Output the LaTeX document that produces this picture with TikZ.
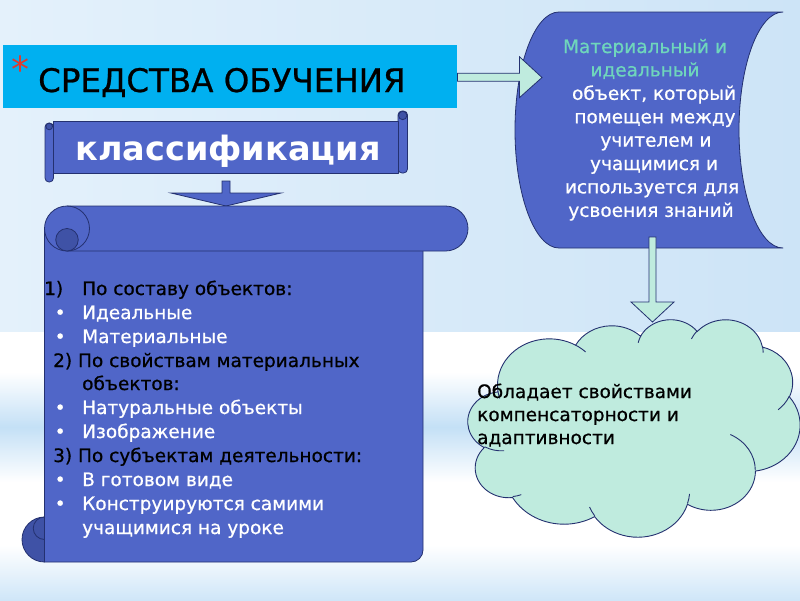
\documentclass[tikz,border=0pt]{standalone}
\usepackage{fontspec}
\setmainfont{DejaVu Sans}
\newfontfamily\heavy{DejaVu Sans}[FakeBold=0.7]
\usetikzlibrary{calc}
\definecolor{scrollblue}{HTML}{5066C8}
\definecolor{curlblue}{HTML}{3F52A6}
\definecolor{edgeblue}{HTML}{243170}
\definecolor{mint}{HTML}{BFEBDE}
\definecolor{minttext}{HTML}{6FD6BC}
\definecolor{titlecyan}{HTML}{00B0F0}
\definecolor{astred}{HTML}{E03A2E}
\definecolor{bgleft}{HTML}{E4F1FB}
\definecolor{bgright}{HTML}{CDE4F7}
\definecolor{bgstreak}{HTML}{C4E0F6}
\definecolor{bgbottom}{HTML}{CFE6F8}
\begin{document}
\begin{tikzpicture}[x=1pt,y=-1pt,
  blueshape/.style={fill=scrollblue,draw=edgeblue,line width=0.8pt,line join=round},
  curlshape/.style={fill=curlblue,draw=edgeblue,line width=0.8pt},
  edgeline/.style={draw=edgeblue,line width=0.8pt},
  mintarrow/.style={fill=mint,draw=edgeblue,line width=0.8pt,line join=miter},
  bluearrow/.style={fill=scrollblue,draw=edgeblue,line width=0.8pt,line join=miter},
  cloudshape/.style={fill=mint,draw=edgeblue,line width=0.9pt},
  cloudline/.style={draw=edgeblue,line width=0.9pt},
  txt/.style={inner sep=0pt,font=\heavy\fontsize{18.5}{22}\selectfont},
  lst/.style={txt,anchor=base west},
  ctr/.style={txt,anchor=base},
]
\useasboundingbox (0,0) rectangle (800,600);

% background
\fill[left color=bgleft,right color=bgright] (0,0) rectangle (800,332);
\fill[white] (0,332) rectangle (800,600);
\fill[top color=white,bottom color=white,middle color=bgstreak] (0,372) rectangle (800,482);
\fill[top color=white,bottom color=bgbottom] (0,545) rectangle (800,600);

% title
\node[fill=titlecyan,anchor=north west,minimum width=454pt,minimum height=63pt,inner sep=0pt] (title) at (3,45) {};
\node[anchor=base west,inner sep=0pt,font=\heavy\fontsize{32.5}{36}\selectfont] (titletext) at (38,92) {СРЕДСТВА ОБУЧЕНИЯ};
\node[anchor=base west,inner sep=0pt,text=astred,font=\fontsize{36}{36}\selectfont] (ast) at (11.5,82) {*};

% classification scroll
\draw[blueshape,rounded corners=4pt] (45,123) rectangle (53.5,182);
\draw[blueshape,rounded corners=4pt] (398,111) rectangle (407.5,173);
\draw[blueshape] (53.5,121) rectangle (398,173);
\draw[curlshape] (49.2,126.5) circle[radius=3.3];
\draw[curlshape] (402.7,115.5) circle[radius=4.2];
\coordinate (klass) at (226,147);
\node[anchor=base,inner sep=0pt,text=white,font=\bfseries\fontsize{33.5}{36}\selectfont] (klasstext) at (228,160) {классификация};

% blue arrow
\coordinate (ka) at (226,181);
\coordinate (kb) at (226,206);
\draw[bluearrow] ($(ka)+(-4,0)$) -- ($(ka)+(4,0)$) -- ($(kb)+(4,-13)$) -- ($(kb)+(55,-13)$) -- (kb) -- ($(kb)+(-55,-13)$) -- ($(kb)+(-4,-13)$) -- cycle;

% big scroll
\draw[blueshape] (44.5,229) -- (423,229) -- (423,550) arc[start angle=0,end angle=90,radius=12] -- (44.5,562) -- cycle;
\draw[curlshape] (44.5,517) arc[start angle=270,end angle=90,radius=22.5] -- cycle;
\draw[edgeline] (44.5,517) arc[start angle=270,end angle=90,radius=11.25];
\draw[blueshape] (67,206) -- (445.5,206) arc[start angle=270,end angle=450,radius=22.5] -- (67,251) arc[start angle=90,end angle=270,radius=22.5] -- cycle;
\draw[edgeline] (67,206) arc[start angle=270,end angle=450,radius=22.5];
\draw[curlshape] (67,239.75) circle[radius=11.25];

% list text
\node[lst] (n1) at (44,295) {1)};
\node[lst] (l1) at (82,295) {По составу объектов:};
\node[lst,text=white] (b1) at (54.5,319) {•};
\node[lst,text=white] (l2) at (82,319) {Идеальные};
\node[lst,text=white] (b2) at (54.5,343) {•};
\node[lst,text=white] (l3) at (82,343) {Материальные};
\node[lst] (l4) at (53,367) {2) По свойствам материальных};
\node[lst] (l5) at (82,390) {объектов:};
\node[lst,text=white] (b3) at (54.5,414) {•};
\node[lst,text=white] (l6) at (82,414) {Натуральные объекты};
\node[lst,text=white] (b4) at (54.5,438) {•};
\node[lst,text=white] (l7) at (82,438) {Изображение};
\node[lst] (l8) at (53,462) {3) По субъектам деятельности:};
\node[lst,text=white] (b5) at (54.5,486) {•};
\node[lst,text=white] (l9) at (82,486) {В готовом виде};
\node[lst,text=white] (b6) at (54.5,510) {•};
\node[lst,text=white] (l10) at (82,510) {Конструируются самими};
\node[lst,text=white] (l11) at (82,534) {учащимися на уроке};

% stored data shape
\draw[blueshape] (559,12) -- (783,12) arc[start angle=270,end angle=90,x radius=44,y radius=118] -- (559,248) arc[start angle=90,end angle=270,x radius=44,y radius=118] -- cycle;
\coordinate (sd) at (650,130);
\node[ctr,text=minttext] (r1) at (645,53) {Материальный и};
\node[ctr,text=minttext] (r2) at (645,76.4) {идеальный};
\node[ctr,text=white] (r3) at (654,99.8) {объект, который};
\node[ctr,text=white] (r4) at (655,123.2) {помещен между};
\node[ctr,text=white] (r5) at (656,146.6) {учителем и};
\node[ctr,text=white] (r6) at (654,170) {учащимися и};
\node[ctr,text=white] (r7) at (652,193.4) {используется для};
\node[ctr,text=white] (r8) at (651,216.8) {усвоения знаний};

% mint arrow title -> shape
\coordinate (sdw) at (542,77.5);
\draw[mintarrow] ($(title.east)+(0,-3.5)$) -- ($(title.east)+(62,-3.5)$) -- ($(title.east)+(62,-20)$) -- (sdw) -- ($(title.east)+(62,21)$) -- ($(title.east)+(62,4.5)$) -- ($(title.east)+(0,4.5)$) -- cycle;

% cloud
\begin{scope}[shift={(468,319)},x=0.76852pt,y=-0.5033pt]
\draw[cloudshape] (39.00,143.70)
 arc[start angle=-187.75,end angle=-59.63,x radius=67.53,y radius=91.90]
 arc[start angle=-152.02,end angle=-45.45,x radius=53.33,y radius=72.67]
 arc[start angle=-153.49,end angle=-37.31,x radius=43.65,y radius=59.45]
 arc[start angle=-139.69,end angle=-10.21,x radius=48.57,y radius=65.95]
 arc[start angle=-74.77,end angle=23.21,x radius=53.33,y radius=72.73]
 arc[start angle=-37.53,end angle=81.86,x radius=67.75,y radius=92.20]
 arc[start angle=0.46,end angle=121.99,x radius=57.85,y radius=78.67]
 arc[start angle=16.85,end angle=146.25,x radius=67.52,y radius=92.15]
 arc[start angle=58.98,end angle=150.20,x radius=77.20,y radius=105.43]
 arc[start angle=-276.69,end angle=-136.87,x radius=43.60,y radius=59.18]
 arc[start angle=-239.65,end angle=-95.89,x radius=43.45,y radius=59.45]
 -- cycle;
\draw[cloudline] (46.93,261.77) arc[start angle=85.55,end angle=120.35,x radius=43.45,y radius=59.45];
\draw[cloudline] (69.28,348.99) arc[start angle=68.23,end angle=83.31,x radius=43.60,y radius=59.18];
\draw[cloudline] (164.78,390.90) arc[start angle=146.25,end angle=158.48,x radius=67.52,y radius=92.15];
\draw[cloudline] (288.27,347.51) arc[start angle=4.74,end angle=16.85,x radius=67.52,y radius=92.15];
\draw[cloudline] (341.29,229.54) arc[start angle=-64.03,end angle=0.46,x radius=57.85,y radius=78.67];
\draw[cloudline] (417.98,153.54) arc[start angle=23.21,end angle=49.64,x radius=53.33,y radius=72.73];
\draw[cloudline] (383.24,54.26) arc[start angle=-10.21,end angle=0.82,x radius=48.57,y radius=65.95];
\draw[cloudline] (290.78,39.52) arc[start angle=-156.29,end angle=-139.69,x radius=48.57,y radius=65.95];
\draw[cloudline] (221.41,47.20) arc[start angle=-167.73,end angle=-153.49,x radius=43.65,y radius=59.45];
\draw[cloudline] (140.00,51.92) arc[start angle=-59.63,end angle=-45.74,x radius=67.53,y radius=91.90];
\draw[cloudline] (41.27,157.89) arc[start angle=163.20,end angle=172.25,x radius=67.53,y radius=91.90];
\coordinate (cloud) at (216,216);
\end{scope}

% mint arrow shape -> cloud
\coordinate (sdb) at (652.5,237);
\coordinate (cloudtop) at (652.5,322);
\draw[mintarrow] ($(sdb)+(-3.5,0)$) -- ($(sdb)+(3.5,0)$) -- ($(cloudtop)+(3.5,-20)$) -- ($(cloudtop)+(21.5,-20)$) -- (cloudtop) -- ($(cloudtop)+(-21.5,-20)$) -- ($(cloudtop)+(-3.5,-20)$) -- cycle;

% cloud text
\node[lst] (c1) at (477,398) {Обладает свойствами};
\node[lst] (c2) at (477,421) {компенсаторности и};
\node[lst] (c3) at (477,444) {адаптивности};
\end{tikzpicture}
\end{document}
